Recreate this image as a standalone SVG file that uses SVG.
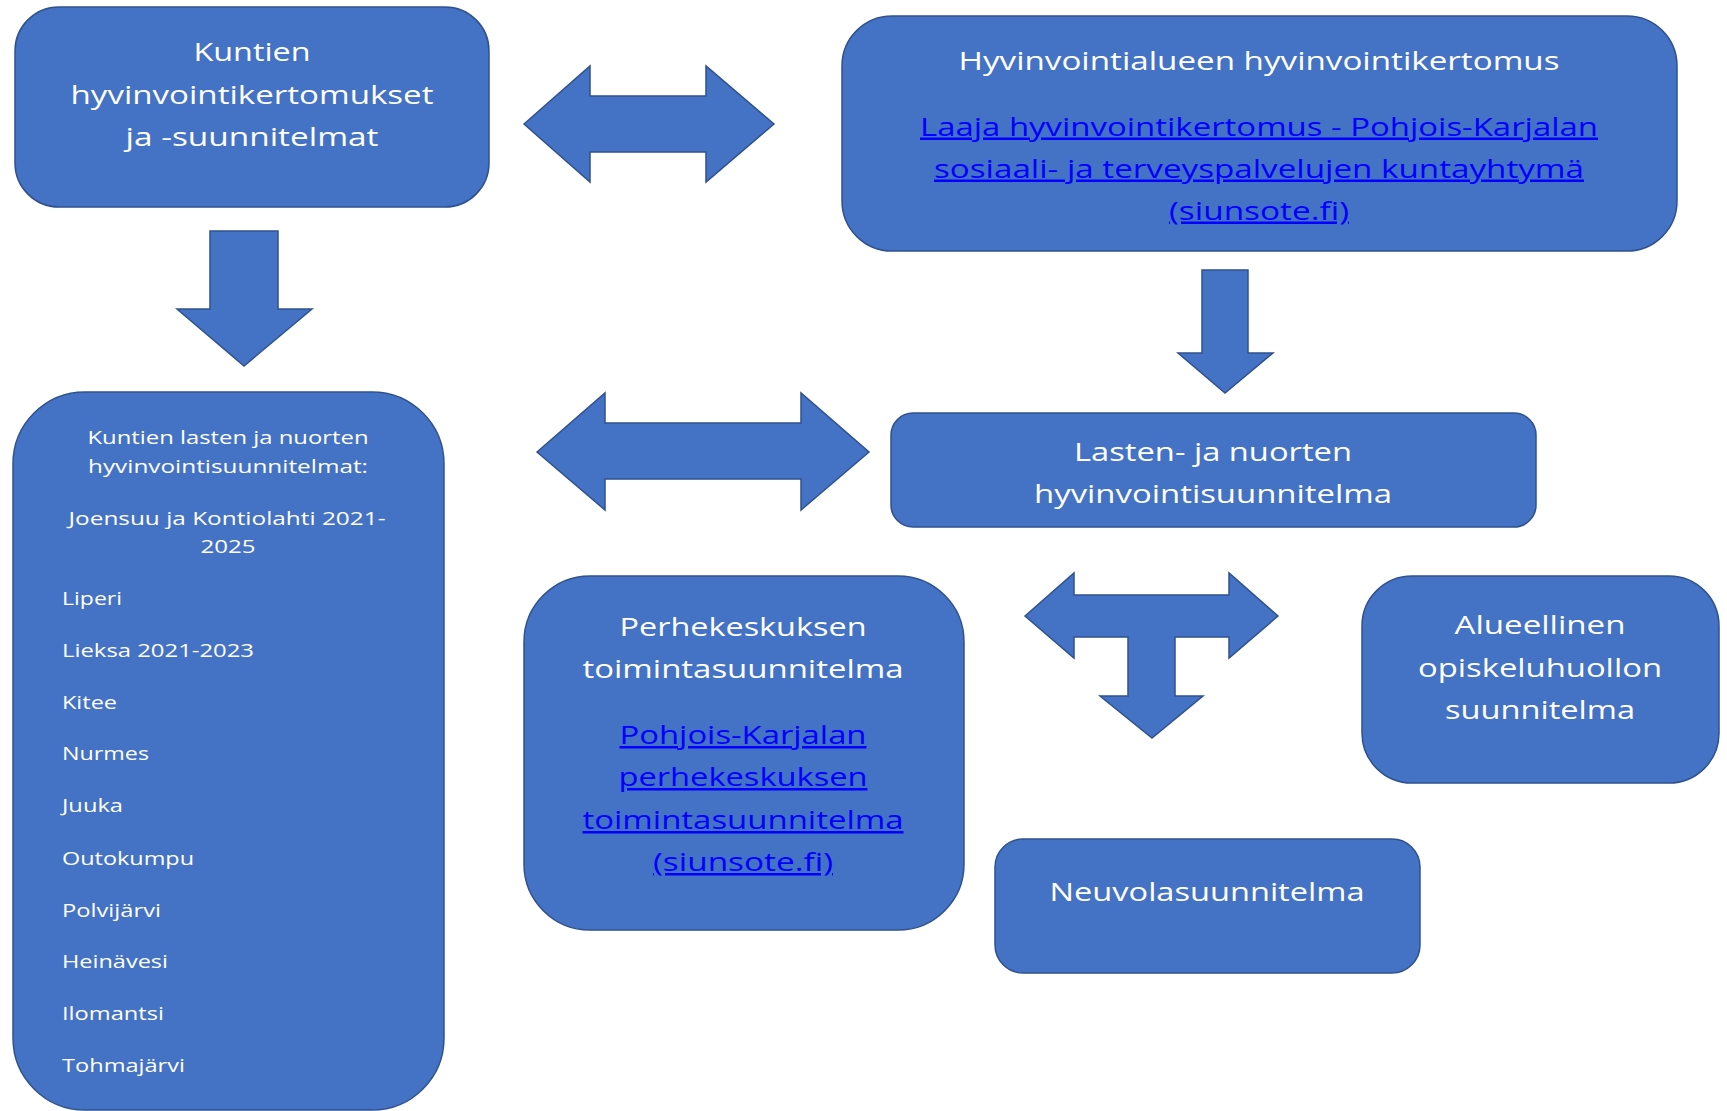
<svg xmlns="http://www.w3.org/2000/svg" width="1727" height="1111" viewBox="0 0 1727 1111">
<style>
.box{fill:#4472C4;stroke:#2F528F;stroke-width:1.5}
.arr{fill:#4472C4;stroke:#2F528F;stroke-width:1.5;stroke-linejoin:miter}
.t{font-family:"Open Sans","Noto Sans",sans-serif;font-size:25px;fill:#FFFFFF;text-anchor:middle}
.l{font-family:"Open Sans","Noto Sans",sans-serif;font-size:25px;fill:#0000FF;text-anchor:middle;text-decoration:underline}
.s{font-family:"Open Sans","Noto Sans",sans-serif;font-size:19px;fill:#FFFFFF}
.sc{text-anchor:middle}
</style>
<rect width="1727" height="1111" fill="#FFFFFF"/>
<g id="connectors">
<path class="arr" d="M524,124 L590,66 L590,96 L706,96 L706,66 L774,124 L706,182 L706,152 L590,152 L590,182 Z"/>
<path class="arr" d="M537,452 L605,393 L605,423 L801,423 L801,393 L869,452 L801,510 L801,479 L605,479 L605,510 Z"/>
<path class="arr" d="M210,231 L278,231 L278,309 L312,309 L244,366 L177,309 L210,309 Z"/>
<path class="arr" d="M1202,270 L1248,270 L1248,353 L1273,353 L1225,393 L1178,353 L1202,353 Z"/>
<path class="arr" d="M1025,616 L1074,573 L1074,595 L1229,595 L1229,573 L1278,616 L1229,658 L1229,637 L1175,637 L1175,696 L1203,696 L1152,738 L1100,696 L1128,696 L1128,637 L1074,637 L1074,658 Z"/>
</g>
<g id="node-kuntien-kertomukset">
<rect class="box" x="15" y="7" width="474" height="200" rx="44" ry="44"/>
<text class="t" x="252" y="61" textLength="117" lengthAdjust="spacingAndGlyphs">Kuntien</text>
<text class="t" x="252" y="103.5" textLength="363" lengthAdjust="spacingAndGlyphs">hyvinvointikertomukset</text>
<text class="t" x="252" y="146" textLength="253" lengthAdjust="spacingAndGlyphs">ja -suunnitelmat</text>
</g>
<g id="node-hyvinvointialue">
<rect class="box" x="842" y="16" width="835" height="235" rx="50" ry="50"/>
<text class="t" x="1259" y="70" textLength="601" lengthAdjust="spacingAndGlyphs">Hyvinvointialueen hyvinvointikertomus</text>
<text class="l" x="1259" y="135.5" textLength="678" lengthAdjust="spacingAndGlyphs">Laaja hyvinvointikertomus - Pohjois-Karjalan</text>
<text class="l" x="1259" y="177.5" textLength="650" lengthAdjust="spacingAndGlyphs">sosiaali- ja terveyspalvelujen kuntayhtymä</text>
<text class="l" x="1259" y="219.5" textLength="180" lengthAdjust="spacingAndGlyphs">(siunsote.fi)</text>
</g>
<g id="node-kuntien-lasten">
<rect class="box" x="13" y="392" width="431" height="718" rx="72" ry="72"/>
<text class="s sc" x="228" y="444" textLength="281" lengthAdjust="spacingAndGlyphs">Kuntien lasten ja nuorten</text>
<text class="s sc" x="228" y="473" textLength="280" lengthAdjust="spacingAndGlyphs">hyvinvointisuunnitelmat:</text>
<text class="s sc" x="227" y="525" textLength="317" lengthAdjust="spacingAndGlyphs">Joensuu ja Kontiolahti 2021-</text>
<text class="s sc" x="228" y="553" textLength="55" lengthAdjust="spacingAndGlyphs">2025</text>
<text class="s" x="62" y="605" textLength="60" lengthAdjust="spacingAndGlyphs">Liperi</text>
<text class="s" x="62" y="657" textLength="192" lengthAdjust="spacingAndGlyphs">Lieksa 2021-2023</text>
<text class="s" x="62" y="709" textLength="55" lengthAdjust="spacingAndGlyphs">Kitee</text>
<text class="s" x="62" y="760" textLength="87" lengthAdjust="spacingAndGlyphs">Nurmes</text>
<text class="s" x="62" y="812" textLength="61" lengthAdjust="spacingAndGlyphs">Juuka</text>
<text class="s" x="62" y="865" textLength="132" lengthAdjust="spacingAndGlyphs">Outokumpu</text>
<text class="s" x="62" y="917" textLength="99" lengthAdjust="spacingAndGlyphs">Polvijärvi</text>
<text class="s" x="62" y="968" textLength="106" lengthAdjust="spacingAndGlyphs">Heinävesi</text>
<text class="s" x="62" y="1020" textLength="102" lengthAdjust="spacingAndGlyphs">Ilomantsi</text>
<text class="s" x="62" y="1072" textLength="123" lengthAdjust="spacingAndGlyphs">Tohmajärvi</text>
</g>
<g id="node-lasten-nuorten">
<rect class="box" x="891" y="413" width="645" height="114" rx="22" ry="22"/>
<text class="t" x="1213" y="460.5" textLength="278" lengthAdjust="spacingAndGlyphs">Lasten- ja nuorten</text>
<text class="t" x="1213" y="502.5" textLength="358" lengthAdjust="spacingAndGlyphs">hyvinvointisuunnitelma</text>
</g>
<g id="node-perhekeskus">
<rect class="box" x="524" y="576" width="440" height="354" rx="66" ry="66"/>
<text class="t" x="743" y="636" textLength="247" lengthAdjust="spacingAndGlyphs">Perhekeskuksen</text>
<text class="t" x="743" y="678" textLength="321" lengthAdjust="spacingAndGlyphs">toimintasuunnitelma</text>
<text class="l" x="743" y="744" textLength="247" lengthAdjust="spacingAndGlyphs">Pohjois-Karjalan</text>
<text class="l" x="743" y="786" textLength="249" lengthAdjust="spacingAndGlyphs">perhekeskuksen</text>
<text class="l" x="743" y="829" textLength="321" lengthAdjust="spacingAndGlyphs">toimintasuunnitelma</text>
<text class="l" x="743" y="871" textLength="180" lengthAdjust="spacingAndGlyphs">(siunsote.fi)</text>
</g>
<g id="node-opiskeluhuolto">
<rect class="box" x="1362" y="576" width="357" height="207" rx="50" ry="50"/>
<text class="t" x="1540" y="634" textLength="171" lengthAdjust="spacingAndGlyphs">Alueellinen</text>
<text class="t" x="1540" y="676.5" textLength="244" lengthAdjust="spacingAndGlyphs">opiskeluhuollon</text>
<text class="t" x="1540" y="718.5" textLength="190" lengthAdjust="spacingAndGlyphs">suunnitelma</text>
</g>
<g id="node-neuvola">
<rect class="box" x="995" y="839" width="425" height="134" rx="28" ry="28"/>
<text class="t" x="1207" y="901" textLength="315" lengthAdjust="spacingAndGlyphs">Neuvolasuunnitelma</text>
</g>
</svg>
